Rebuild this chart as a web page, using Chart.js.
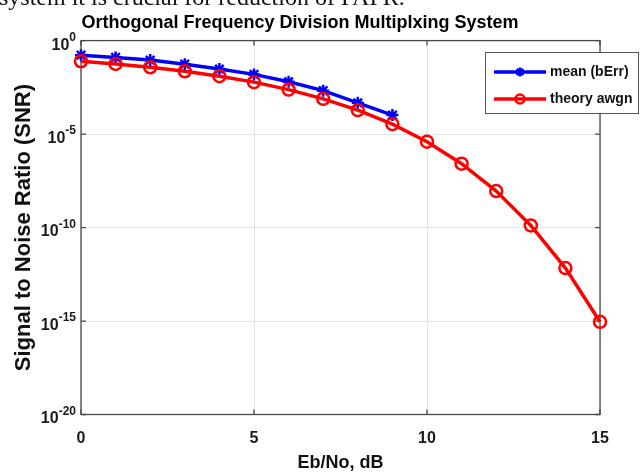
<!DOCTYPE html>
<html>
<head>
<meta charset="utf-8">
<script src="https://cdn.jsdelivr.net/npm/chart.js@4.4.1/dist/chart.umd.min.js"></script>
<style>
  html, body { margin: 0; padding: 0; background: #fff; }
  #wrap { position: relative; width: 640px; height: 474px; overflow: hidden; }
  #cut { position: absolute; left: -1px; top: -15px; font: 24px "Liberation Serif", serif; color: #111; white-space: nowrap; line-height: 24px; }
  canvas { position: absolute; left: 0; top: 0; }
</style>
</head>
<body>
<div id="wrap">
  <canvas id="myChart" width="640" height="474"></canvas>
  <div id="cut">system it is crucial for reduction of PAPR.</div>
</div>
<script>
// Eb/No in dB
const ebNo = [0, 1, 2, 3, 4, 5, 6, 7, 8, 9, 10, 11, 12, 13, 14, 15];
// simulated mean bit error (only 0..9 dB)
const meanBErr = [0.167, 0.126, 0.091, 0.055, 0.030, 0.0156, 0.0063, 0.0021, 4.7e-4, 1.04e-4];
// theoretical awgn curve
const theoryAwgn = [0.0786, 0.0563, 0.0375, 0.0229, 0.0125, 0.0060, 0.0024, 7.7e-4, 1.9e-4, 3.4e-5,
                    3.9e-6, 2.6e-7, 9.0e-9, 1.3e-10, 6.8e-13, 9.1e-16];
const xTicks = [0, 5, 10, 15];
const yTicks = [1e-20, 1e-15, 1e-10, 1e-5, 1];

const FONT = 'Liberation Sans';

function toPoints(xs, ys) {
    return ys.map((v, i) => ({ x: xs[i], y: v }));
}

// matlab style box, inward ticks, superscript y labels and legend
const matlabLook = {
    id: 'matlabLook',
    beforeDatasetsDraw(chart) {
        const { ctx, chartArea: a, scales: { x, y } } = chart;
        ctx.save();
        ctx.strokeStyle = '#4a4a4a';
        ctx.lineWidth = 1.3;
        ctx.strokeRect(a.left, a.top, a.width, a.height);
        ctx.beginPath();
        x.ticks.forEach(t => {
            const px = x.getPixelForValue(t.value);
            ctx.moveTo(px, a.bottom); ctx.lineTo(px, a.bottom - 5);
            ctx.moveTo(px, a.top); ctx.lineTo(px, a.top + 5);
        });
        y.ticks.forEach(t => {
            const py = y.getPixelForValue(t.value);
            ctx.moveTo(a.left, py); ctx.lineTo(a.left + 5, py);
            ctx.moveTo(a.right, py); ctx.lineTo(a.right - 5, py);
        });
        ctx.stroke();
        ctx.restore();
    },
    afterDraw(chart) {
        const { ctx, scales: { y } } = chart;
        ctx.save();
        ctx.fillStyle = '#1a1a1a';
        ctx.textBaseline = 'middle';
        ctx.textAlign = 'left';
        const R = 76;
        y.ticks.forEach(t => {
            const py = y.getPixelForValue(t.value);
            const e = String(Math.round(Math.log10(t.value)));
            ctx.font = 'bold 12px ' + FONT;
            const ew = ctx.measureText(e).width;
            ctx.font = 'bold 16px ' + FONT;
            const bw = ctx.measureText('10').width;
            ctx.fillText('10', R - ew - bw, py + 4.5);
            ctx.font = 'bold 12px ' + FONT;
            ctx.fillText(e, R - ew, py - 3);
        });

        // legend
        ctx.fillStyle = '#fff';
        ctx.fillRect(485, 52, 154, 62);
        ctx.strokeStyle = '#555';
        ctx.lineWidth = 1;
        ctx.strokeRect(485.5, 52.5, 153, 61);
        chart.data.datasets.forEach((ds, i) => {
            const cy = 72 + i * 27;
            ctx.strokeStyle = ds.borderColor;
            ctx.lineWidth = ds.borderWidth;
            ctx.beginPath();
            ctx.moveTo(494, cy); ctx.lineTo(546, cy);
            ctx.stroke();
            ctx.lineWidth = ds.pointBorderWidth;
            ctx.fillStyle = 'rgba(0,0,0,0)';
            Chart.helpers.drawPoint(ctx, {
                pointStyle: ds.pointStyle, radius: 4.5, rotation: 0, borderWidth: ds.pointBorderWidth
            }, 520, cy);
            ctx.fillStyle = '#111';
            ctx.font = 'bold 14px ' + FONT;
            ctx.fillText(ds.label, 550, cy);
        });
        ctx.restore();
    }
};

const ctx = document.getElementById('myChart');
new Chart(ctx, {
    type: 'line',
    data: {
        datasets: [{
            label: 'mean (bErr)',
            data: toPoints(ebNo, meanBErr),
            borderColor: '#0000ff',
            backgroundColor: 'rgba(0,0,0,0)',
            borderWidth: 3.5,
            pointStyle: 'star',
            pointRadius: 6,
            pointBorderWidth: 2.5,
            pointBorderColor: '#0000ff',
            pointBackgroundColor: 'rgba(0,0,0,0)',
            clip: false,
            order: 1
        }, {
            label: 'theory awgn',
            data: toPoints(ebNo, theoryAwgn),
            borderColor: '#ff0000',
            backgroundColor: 'rgba(0,0,0,0)',
            borderWidth: 3.5,
            pointStyle: 'circle',
            pointRadius: 6,
            pointBorderWidth: 2.5,
            pointBorderColor: '#ff0000',
            pointBackgroundColor: 'rgba(0,0,0,0)',
            clip: false,
            order: 0
        }]
    },
    options: {
        responsive: false,
        animation: false,
        layout: { padding: { left: 0, right: 40, top: 0, bottom: 0 } },
        plugins: {
            legend: { display: false },
            tooltip: { enabled: false },
            title: {
                display: true,
                text: 'Orthogonal Frequency Division Multiplxing System',
                color: '#000',
                font: { family: FONT, size: 18, weight: 'bold' },
                padding: { top: 12, bottom: 7 }
            }
        },
        scales: {
            x: {
                type: 'linear',
                min: 0,
                max: 15,
                afterBuildTicks: (s) => { s.ticks = xTicks.map(v => ({ value: v })); },
                afterFit: (s) => { s.height = 59.5; },
                grid: { color: '#e3e3e3', drawTicks: false },
                border: { display: false },
                ticks: { color: '#1a1a1a', padding: 14, font: { family: FONT, size: 16, weight: 'bold' } },
                title: {
                    display: true,
                    text: 'Eb/No, dB',
                    color: '#111',
                    font: { family: FONT, size: 18, weight: 'bold' },
                    padding: { top: 0, bottom: 0 }
                }
            },
            y: {
                type: 'logarithmic',
                min: 1e-20,
                max: 1,
                afterBuildTicks: (s) => { s.ticks = yTicks.map(v => ({ value: v })); },
                afterFit: (s) => { s.width = 81; },
                grid: { color: '#e3e3e3', drawTicks: false },
                border: { display: false },
                ticks: { display: false },
                title: {
                    display: true,
                    text: 'Signal to Noise Ratio (SNR)',
                    color: '#111',
                    font: { family: FONT, size: 22, weight: 'bold' },
                    padding: { top: 11, bottom: 0 }
                }
            }
        }
    },
    plugins: [matlabLook]
});
</script>
</body>
</html>
